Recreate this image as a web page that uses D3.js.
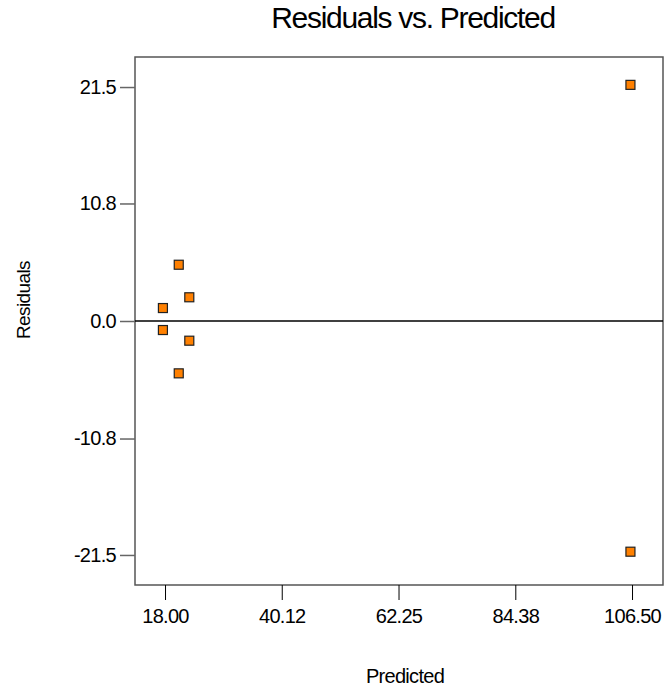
<!DOCTYPE html>
<html>
<head>
<meta charset="utf-8">
<script src="https://cdn.jsdelivr.net/npm/d3@7"></script>
<style>
  body { margin: 0; background: #fff; }
  text { font-family: "Liberation Sans", Arial, sans-serif; fill: #000; }
</style>
</head>
<body>
<div id="chart"></div>
<script>
// Residuals vs. predicted values
const predicted = [20.6, 22.6, 17.6, 17.6, 22.6, 20.6, 106.2, 106.2];
const residuals = [5.17, 2.18, 1.19, -0.83, -1.81, -4.81, 21.7, -21.2];

const xTicks = [18.0, 40.12, 62.25, 84.38, 106.5];
const xTickLabels = ["18.00", "40.12", "62.25", "84.38", "106.50"];
const yTicks = [21.5, 10.8, 0.0, -10.8, -21.5];
const yTickLabels = ["21.5", "10.8", "0.0", "-10.8", "-21.5"];

const width = 666, height = 691;
const margin = { top: 57, right: 3, bottom: 106, left: 135 };
const plotW = width - margin.left - margin.right;
const plotH = height - margin.top - margin.bottom;

const svg = d3
  .select("#chart")
  .append("svg")
  .attr("width", width)
  .attr("height", height);

const x = d3.scaleLinear().domain([12.31, 112.37]).range([0, plotW]);
const y = d3.scaleLinear().domain([-24.26, 24.26]).range([plotH, 0]);

const g = svg
  .append("g")
  .attr("transform", `translate(${margin.left},${margin.top})`);

// frame
g.append("rect")
  .attr("x", 0)
  .attr("y", 0)
  .attr("width", plotW)
  .attr("height", plotH)
  .attr("fill", "none")
  .attr("stroke", "#555")
  .attr("stroke-width", 1.5);

// zero line
g.append("line")
  .attr("x1", 0)
  .attr("x2", plotW)
  .attr("y1", y(0))
  .attr("y2", y(0))
  .attr("stroke", "#000")
  .attr("stroke-width", 1.5);

const labelFont = '"Liberation Sans", Arial, sans-serif';

// x axis
const xAxis = d3
  .axisBottom(x)
  .tickValues(xTicks)
  .tickFormat((d, i) => xTickLabels[i])
  .tickSize(15)
  .tickPadding(9);
g.append("g")
  .attr("transform", `translate(0,${plotH})`)
  .call(xAxis)
  .call((a) => a.select(".domain").remove())
  .call((a) => a.selectAll("line").attr("stroke", "#000"))
  .selectAll("text")
  .style("font-size", "20px")
  .style("font-family", labelFont)
  .attr("letter-spacing", "-0.7");

// y axis
const yAxis = d3
  .axisLeft(y)
  .tickValues(yTicks)
  .tickFormat((d, i) => yTickLabels[i])
  .tickSize(15)
  .tickPadding(4);
g.append("g")
  .call(yAxis)
  .call((a) => a.select(".domain").remove())
  .call((a) => a.selectAll("line").attr("stroke", "#666").attr("stroke-width", 1.5))
  .selectAll("text")
  .style("font-size", "20px")
  .style("font-family", labelFont)
  .attr("letter-spacing", "-0.7");

// points
const size = 9;
g.selectAll("rect.pt")
  .data(predicted.map((p, i) => ({ p: p, r: residuals[i] })))
  .enter()
  .append("rect")
  .attr("class", "pt")
  .attr("x", (d) => x(d.p) - size / 2)
  .attr("y", (d) => y(d.r) - size / 2)
  .attr("width", size)
  .attr("height", size)
  .attr("fill", "#ff8000")
  .attr("stroke", "#222")
  .attr("stroke-width", 1.2);

// title
svg.append("text")
  .attr("x", 413)
  .attr("y", 28)
  .attr("text-anchor", "middle")
  .attr("letter-spacing", "-1.3")
  .style("font-size", "30px")
  .text("Residuals vs. Predicted");

// axis titles
svg.append("text")
  .attr("x", 405)
  .attr("y", 683)
  .attr("text-anchor", "middle")
  .attr("letter-spacing", "-0.7")
  .style("font-size", "20px")
  .text("Predicted");

svg.append("text")
  .attr("transform", "translate(30,300) rotate(-90)")
  .attr("text-anchor", "middle")
  .attr("letter-spacing", "-0.6")
  .style("font-size", "19px")
  .text("Residuals");
</script>
</body>
</html>
